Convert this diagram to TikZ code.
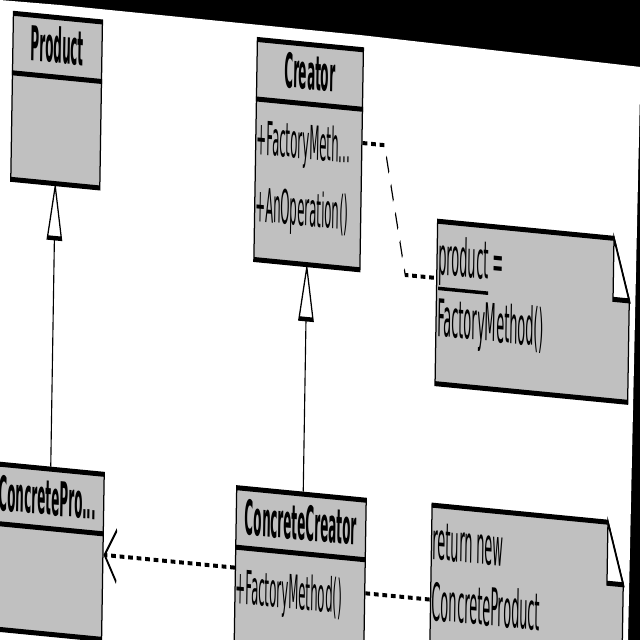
\documentclass[tikz,border=0pt]{standalone}
\usepackage{fontspec}
\setmainfont{DejaVu Sans}
\usetikzlibrary{arrows.meta}
\definecolor{boite}{RGB}{192,192,192}

\begin{document}
\begin{tikzpicture}[x=1pt,y=1pt,
    classe/.style={draw=black, fill=boite, line width=5pt, inner sep=0pt, anchor=north west},
    notebox/.style={inner sep=0pt, anchor=north west},
    titre/.style={font=\fontsize{48}{54}\selectfont\bfseries, inner sep=0pt},
    membre/.style={font=\fontsize{47}{54}\selectfont, inner sep=0pt, anchor=base west},
    texte/.style={font=\fontsize{52}{60}\selectfont, inner sep=0pt, anchor=base west},
    trait/.style={line width=5pt},
    lien/.style={line width=4pt, dash pattern=on 19pt off 15pt},
    herit/.style={line width=4.5pt}]
  \useasboundingbox (0,0) rectangle (640,-640);
  % fond noir autour de l'image
  \fill[black] (0,0) rectangle (640,-640);
  \fill[white] (0,0) -- (60,-5) -- (360,-35) -- (640.6,-67) -- (638,-180)
    -- (628,-640) -- (0,-640) -- cycle;
  \clip (0,0) rectangle (640,-640);
  \begin{scope}[transform canvas={cm={0.25,-0.02425,0.016,1,(0,0)}}, x=4pt, y=-1pt]
    % classes
    \node[classe, minimum width=356pt, minimum height=166pt] (product) at (13,9.5) {};
    \node[classe, minimum width=424pt, minimum height=220pt] (creator) at (257,12) {};
    \node[classe, minimum width=476pt, minimum height=165pt] (cproduct) at (-8,461) {};
    \node[classe, minimum width=518pt, minimum height=219pt] (ccreator) at (243.5,461.5) {};
    \foreach \c in {product,creator,cproduct,ccreator}
    \draw[trait] ([yshift=-62pt]\c.north west) -- ([yshift=-62pt]\c.north east);
    % noms
    \node[titre] (t-product) at ([yshift=-30pt]product.north) {Product};
    \node[titre] (t-creator) at ([yshift=-30pt]creator.north) {Creator};
    \node[titre, anchor=east] (t-cproduct) at ([xshift=-32pt,yshift=-31pt]cproduct.north east) {ConcretePro...};
    \node[titre] (t-ccreator) at ([yshift=-31pt]ccreator.north) {ConcreteCreator};
    % operations
    \node[membre] (m-fact) at ([xshift=6pt,yshift=-117pt]creator.north west) {+FactoryMeth...};
    \node[membre] (m-oper) at ([xshift=6pt,yshift=-184pt]creator.north west) {+AnOperation()};
    \node[membre] (m-cfact) at ([xshift=6pt,yshift=-118pt]ccreator.north west) {+FactoryMethod()};
    % notes
    \node[notebox, minimum width=770pt, minimum height=162pt] (note1) at (440.5,178.5) {};
    \node[notebox, minimum width=768pt, minimum height=162pt] (note2) at (439.5,462.5) {};
    \foreach \n in {note1,note2} {
      \filldraw[trait, fill=boite] (\n.north west) -- ([xshift=-65pt]\n.north east)
        -- ([yshift=-61pt]\n.north east) -- (\n.south east) -- (\n.south west) -- cycle;
      \filldraw[trait, fill=white] ([xshift=-65pt]\n.north east)
        -- ([xshift=-65pt,yshift=-61pt]\n.north east) -- ([yshift=-61pt]\n.north east) -- cycle;
    }
    \node[texte] (mot) at ([xshift=6pt,yshift=-53pt]note1.north west) {product};
    \node[texte] (egal) at (mot.base east) {\ =};
    \draw[line width=3.5pt] ([yshift=-14pt]mot.base west) -- ([yshift=-14pt]mot.base east);
    \node[texte] (n1-b) at ([xshift=6pt,yshift=-115pt]note1.north west) {FactoryMethod()};
    \node[texte] (n2-a) at ([xshift=6pt,yshift=-54pt]note2.north west) {return new};
    \node[texte] (n2-b) at ([xshift=6pt,yshift=-115pt]note2.north west) {ConcreteProduct};
    % heritage
    \draw[herit, fill=white] (product.south) -- ++(-7,52) -- ++(14,0) -- cycle;
    \draw[herit] ([yshift=-52pt]product.south) -- (product.south |- cproduct.north);
    \draw[herit, fill=white] (creator.south) -- ++(-7,52) -- ++(14,0) -- cycle;
    \draw[herit] ([yshift=-52pt]creator.south) -- (creator.south |- ccreator.north);
    % dependance
    \draw[lien, -{Straight Barb[length=48pt, width=52pt]}] ([yshift=-82.5pt]ccreator.north west)
      -- ([yshift=-82.5pt]ccreator.north west -| cproduct.east);
    % liens vers les notes
    \coordinate (coude) at (409,235.3);
    \draw[lien] ([yshift=-95.7pt]creator.north east) -- ++(22,0) -- (coude) -- (coude -| note1.west);
    \draw[lien] ([yshift=-95.5pt]ccreator.north east) -- ([yshift=-94.5pt]note2.north west);
  \end{scope}
\end{tikzpicture}
\end{document}
